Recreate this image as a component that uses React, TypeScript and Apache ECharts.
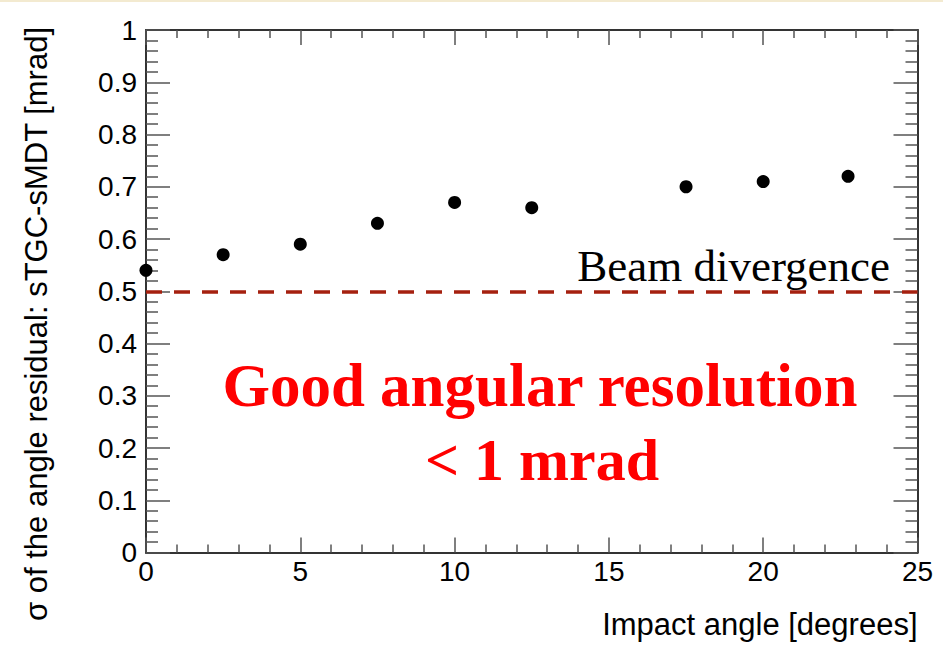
import React, { useEffect, useRef } from "react";
import * as echarts from "echarts";

const impactAngles = [0, 2.5, 5, 7.5, 10, 12.5, 17.5, 20, 22.75];
const sigmaValues = [0.54, 0.57, 0.59, 0.63, 0.67, 0.66, 0.7, 0.71, 0.72];
const beamDivergence = 0.5;
const xRange = [0, 25];
const yRange = [0, 1];

const sans = "Liberation Sans, Arial, Helvetica, sans-serif";
const serif = "Liberation Serif, Times New Roman, serif";

export default function App() {
  const ref = useRef<HTMLDivElement>(null);
  useEffect(() => {
    if (!ref.current) return;
    const chart = echarts.init(ref.current, undefined, { renderer: "svg" });
    const axisLine = { show: true, onZero: false, lineStyle: { color: "#333", width: 2 } };
    const tickStyle = { color: "#555", width: 1.5 };
    const xTick = { show: true, inside: true, length: 15, lineStyle: tickStyle };
    const xMinor = { show: true, splitNumber: 5, length: 8, lineStyle: tickStyle };
    const yTick = { show: true, inside: true, length: 24, lineStyle: tickStyle };
    const yMinor = { show: true, splitNumber: 5, length: 12, lineStyle: tickStyle };
    chart.setOption({
      animation: false,
      backgroundColor: "#fff",
      grid: { left: 146, top: 30, right: 25.5, bottom: 96.5, containLabel: false },
      xAxis: [
        {
          type: "value",
          min: xRange[0],
          max: xRange[1],
          interval: 5,
          position: "bottom",
          axisLine,
          axisTick: xTick,
          minorTick: xMinor,
          splitLine: { show: false },
          axisLabel: { color: "#000", fontSize: 28, fontFamily: sans, margin: 5 },
          name: "Impact angle [degrees]",
          nameLocation: "end",
          nameGap: 0,
          nameTextStyle: {
            color: "#000",
            fontSize: 31,
            fontFamily: sans,
            align: "right",
            verticalAlign: "top",
            padding: [56, 0, 0, 0],
          },
        },
        {
          type: "value",
          min: xRange[0],
          max: xRange[1],
          interval: 5,
          position: "top",
          axisLine,
          axisTick: xTick,
          minorTick: xMinor,
          splitLine: { show: false },
          axisLabel: { show: false },
        },
      ],
      yAxis: [
        {
          type: "value",
          min: yRange[0],
          max: yRange[1],
          interval: 0.1,
          position: "left",
          axisLine,
          axisTick: yTick,
          minorTick: yMinor,
          splitLine: { show: false },
          axisLabel: { color: "#000", fontSize: 28, fontFamily: sans, margin: 9 },
        },
        {
          type: "value",
          min: yRange[0],
          max: yRange[1],
          interval: 0.1,
          position: "right",
          axisLine,
          axisTick: yTick,
          minorTick: yMinor,
          splitLine: { show: false },
          axisLabel: { show: false },
        },
      ],
      series: [
        {
          type: "scatter",
          xAxisIndex: 0,
          yAxisIndex: 0,
          symbol: "circle",
          symbolSize: 13,
          itemStyle: { color: "#000", opacity: 1 },
          data: impactAngles.map((x, i) => [x, sigmaValues[i]]),
          markLine: {
            silent: true,
            symbol: "none",
            label: { show: false },
            lineStyle: { color: "#a5200f", width: 3.5, type: [16, 12], opacity: 1 },
            data: [
              [
                { coord: [xRange[0], beamDivergence] },
                { coord: [xRange[1], beamDivergence] },
              ],
            ],
          },
          z: 3,
        },
      ],
      graphic: [
        {
          type: "rect",
          left: 0,
          top: 0,
          shape: { width: 943, height: 2 },
          style: { fill: "#f3ead0" },
        },
        {
          type: "text",
          x: 36,
          y: 27,
          rotation: Math.PI / 2,
          style: {
            text: "σ of the angle residual: sTGC-sMDT [mrad]",
            fill: "#000",
            font: `31px ${sans}`,
            textAlign: "right",
            textVerticalAlign: "middle",
          },
        },
        {
          type: "text",
          x: 890,
          y: 288,
          style: {
            text: "Beam divergence",
            fill: "#000",
            font: `45px ${serif}`,
            textAlign: "right",
            textVerticalAlign: "bottom",
          },
        },
        {
          type: "text",
          x: 540,
          y: 416,
          style: {
            text: "Good angular resolution",
            fill: "#ff0000",
            font: `bold 61px ${serif}`,
            textAlign: "center",
            textVerticalAlign: "bottom",
          },
        },
        {
          type: "text",
          x: 542,
          y: 490,
          style: {
            text: "< 1 mrad",
            fill: "#ff0000",
            font: `bold 60px ${serif}`,
            textAlign: "center",
            textVerticalAlign: "bottom",
          },
        },
      ],
    });
    return () => chart.dispose();
  }, []);
  return (
    <div
      ref={ref}
      style={{ position: "fixed", left: 0, top: 0, width: 943, height: 649 }}
    />
  );
}
